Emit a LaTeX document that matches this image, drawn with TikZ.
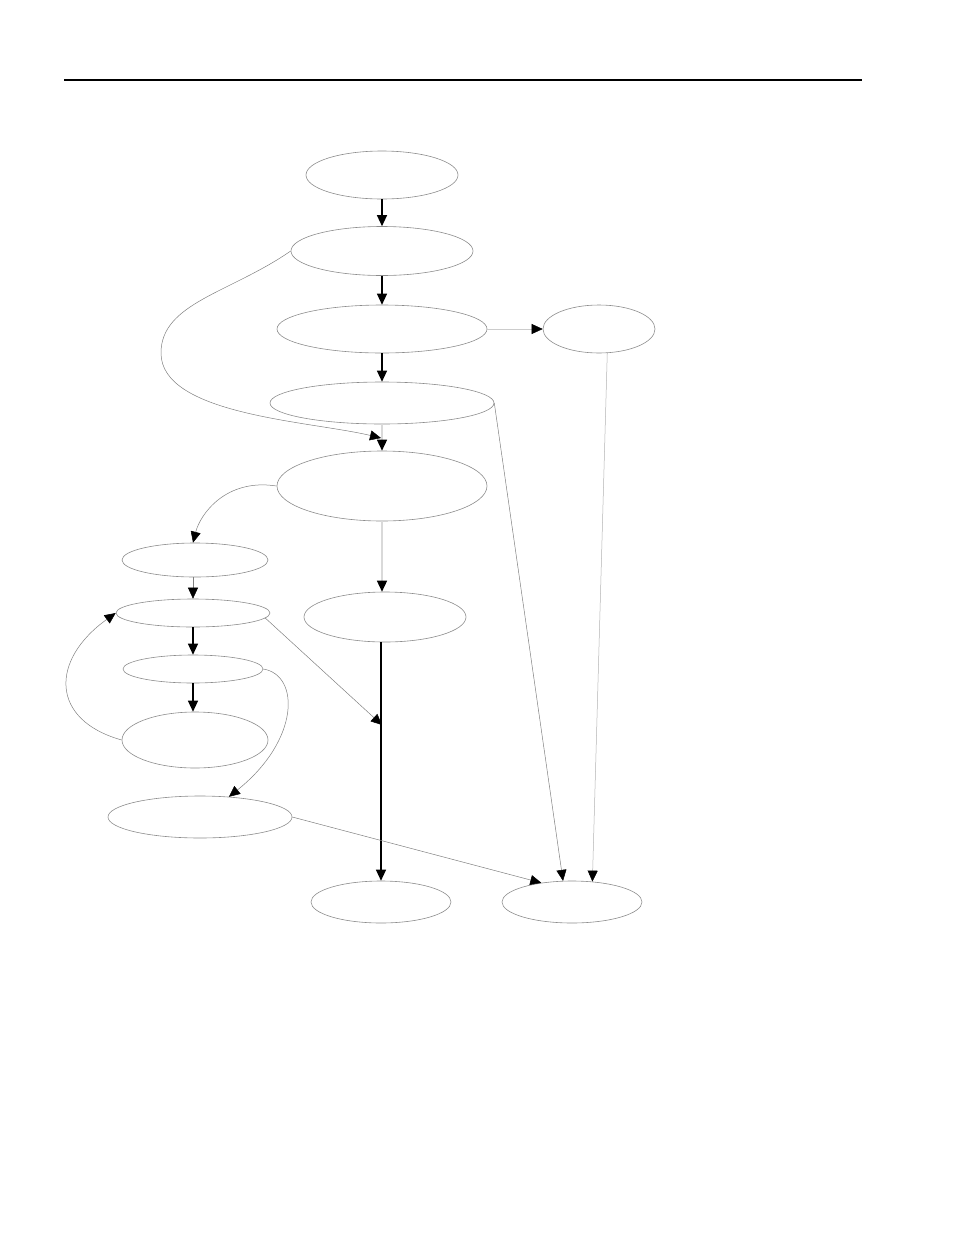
\documentclass[tikz,border=0pt]{standalone}
\usetikzlibrary{shapes.geometric,arrows.meta}
\begin{document}
\begin{tikzpicture}[x=1pt,y=-1pt,
  ell/.style={ellipse,draw=black!45,line width=0.6pt,inner sep=0pt},
  tipk/.style={-{Triangle[length=11pt,width=10pt,black]}},
  strong/.style={tipk,draw=black,line width=1.2pt},
  thin/.style={tipk,draw=black!50,line width=0.5pt},
  pale/.style={tipk,draw=black!15,line width=1.4pt}]
\useasboundingbox (0,0) rectangle (954,1235);
\draw[line width=1.1pt] (64,80) coordinate (r1) -- (862,80) coordinate (r2);
% nodes
\node[ell,minimum width=152pt,minimum height=48pt] (A) at (382,175) {};
\node[ell,minimum width=182pt,minimum height=49pt] (B) at (382,251) {};
\node[ell,minimum width=210pt,minimum height=48pt] (C) at (382,329) {};
\node[ell,minimum width=112pt,minimum height=48pt] (D) at (599,329) {};
\node[ell,minimum width=224pt,minimum height=42pt] (E) at (382,403) {};
\node[ell,minimum width=210pt,minimum height=70pt] (F) at (382,486) {};
\node[ell,minimum width=146pt,minimum height=34pt] (G) at (195,560) {};
\node[ell,minimum width=162pt,minimum height=50pt] (H) at (385,617) {};
\node[ell,minimum width=154pt,minimum height=28pt] (I) at (193,613) {};
\node[ell,minimum width=140pt,minimum height=28pt] (J) at (193,669) {};
\node[ell,minimum width=146pt,minimum height=56pt] (K) at (195,740) {};
\node[ell,minimum width=184pt,minimum height=42pt] (L) at (200,817) {};
\node[ell,minimum width=140pt,minimum height=42pt] (M) at (381,902) {};
\node[ell,minimum width=140pt,minimum height=42pt] (N) at (572,902) {};
\coordinate (p1) at (381,438);
\coordinate (p2) at (382,725);
% edges
\draw[strong] (A.south) -- (B.north);
\draw[strong] (B.south) -- (C.north);
\draw[strong] (C.south) -- (E.north);
\draw[thin,draw=black!20] (C.east) -- (D.west);
\draw[pale] (E.south) -- (F.north);
\draw[thin] (B.west) .. controls (230,293) and (161,303) .. (161,353)
   .. controls (161,415) and (310,421) .. (p1);
\draw[thin] (F.west) .. controls (225,478) and (200,515) .. (I.north |- G.north);
\draw[pale] (F.south) -- (F.south |- H.north);
\draw[thin] (I.north |- G.south) -- (I.north);
\draw[strong] (I.south) -- (J.north);
\draw[strong] (J.south) -- (J.south |- K.north);
\draw[thin] (K.west) .. controls (50,720) and (50,660) .. (I.west);
\draw[thin] (J.east) .. controls (300,675) and (300,740) .. (L.35.5);
\draw[thin] (I.-4) -- (p2);
\draw[strong] (M.north |- H.south) -- (M.north);
\draw[thin] (L.east) -- (N.148);
\draw[thin] (E.east) -- (N.113);
\draw[thin,draw=black!30] (D.-71) -- (N.45);
\end{tikzpicture}
\end{document}
